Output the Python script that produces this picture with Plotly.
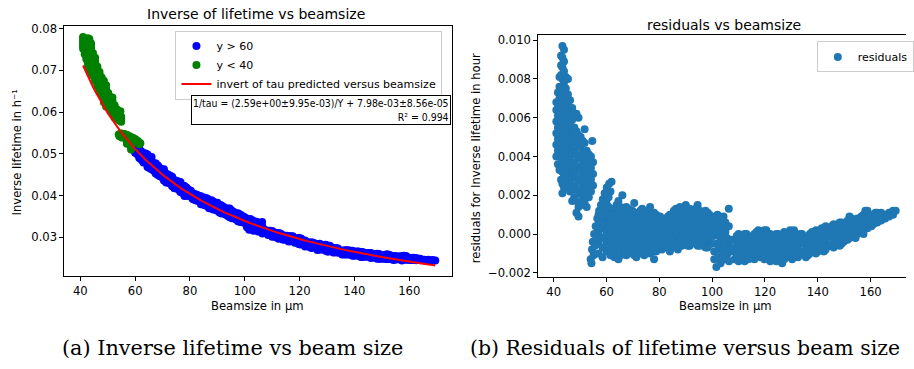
import plotly.graph_objects as go

# ---- fit parameters printed on the chart ----
A_FIT = 2.59       # 1/tau = A/Y + B
B_FIT = 7.98e-3

# ---- residual data (beamsize in µm, residual in 1/h) ----
# green group ("y < 40"): tall blob at small beamsize, columns of points
green_cols_x = [41.0, 41.6, 42.2, 42.8, 43.3, 43.9, 44.6, 45.4, 46.2, 47.0, 47.8,
                48.6, 49.4, 50.2, 51.0, 51.7, 52.5, 53.3, 54.1, 54.6, 54.9, 57.0, 58.5]
green_cols_r = [
    [0.0040, 0.0046, 0.0052, 0.0058, 0.0064, 0.0068],
    [0.0036, 0.0043, 0.0049, 0.0055, 0.0061, 0.0067, 0.0073],
    [0.0033, 0.0040, 0.0046, 0.0052, 0.0058, 0.0064, 0.0070, 0.0076, 0.0081],
    [0.0028, 0.0034, 0.0040, 0.0046, 0.0052, 0.0058, 0.0064, 0.0070, 0.0076, 0.0082, 0.0087, 0.0092],
    [0.0021, 0.0026, 0.0032, 0.0038, 0.0044, 0.0050, 0.0056, 0.0062, 0.0068, 0.0074, 0.0080, 0.0086, 0.0091, 0.0097],
    [0.0024, 0.0030, 0.0036, 0.0042, 0.0048, 0.0054, 0.0060, 0.0066, 0.0072, 0.0078, 0.0084, 0.0089, 0.0095],
    [0.0027, 0.0033, 0.0039, 0.0045, 0.0051, 0.0057, 0.0063, 0.0069, 0.0075, 0.0081],
    [0.0025, 0.0031, 0.0037, 0.0043, 0.0049, 0.0055, 0.0061, 0.0067, 0.0072, 0.0080],
    [0.0022, 0.0028, 0.0034, 0.0040, 0.0046, 0.0052, 0.0058, 0.0064, 0.0069],
    [0.0017, 0.0023, 0.0029, 0.0035, 0.0041, 0.0047, 0.0053, 0.0059, 0.0065],
    [0.0019, 0.0025, 0.0031, 0.0037, 0.0043, 0.0049, 0.0055, 0.0061],
    [0.0011, 0.0017, 0.0023, 0.0029, 0.0035, 0.0041, 0.0047, 0.0053, 0.0062],
    [0.0009, 0.0014, 0.0021, 0.0027, 0.0033, 0.0039, 0.0045, 0.0051, 0.0060],
    [0.0015, 0.0021, 0.0027, 0.0033, 0.0039, 0.0045, 0.0050],
    [0.0018, 0.0024, 0.0030, 0.0036, 0.0042, 0.0048],
    [0.0016, 0.0022, 0.0028, 0.0034, 0.0040, 0.0047, 0.0054],
    [0.0014, 0.0020, 0.0026, 0.0032, 0.0038, 0.0043],
    [0.0019, 0.0025, 0.0031, 0.0037, 0.0041],
    [0.0022, 0.0028, 0.0034, 0.0040],
    [0.0048],
    [0.0025, 0.0031, 0.0037],
    [-0.0010, -0.0005, 0.0000, 0.0005, 0.0010],
    [-0.0012, -0.0007, -0.0002, 0.0003, 0.0008, 0.0013],
]
# green group: diagonal strip where the residuals drop (x ~ 54-62)
strip_x = [54.0, 54.3, 54.5, 54.8, 55.1, 55.3, 55.6, 55.9, 56.2, 56.5, 56.8, 57.2,
           57.5, 57.9, 58.2, 58.6, 58.9, 59.3, 59.7, 60.1, 60.5, 61.0, 61.5, 61.9]
strip_r = [-0.0013, -0.0015, -0.0008, -0.0004, -0.0011, 0.0000, -0.0006, 0.0004,
           -0.0002, 0.0008, 0.0003, 0.0012, 0.0007, 0.0015, 0.0010, 0.0018, 0.0013,
           0.0021, 0.0016, 0.0024, 0.0019, 0.0026, 0.0022, 0.0027]

# blue group ("y > 60"), columns of points
blue_cols_x = [60.0, 61.5, 63.0, 64.5, 66.0, 67.5, 69.0, 70.5, 72.0, 73.5, 75.0, 76.5,
               78.0, 79.5, 81.0, 82.5, 84.0, 85.5, 87.0, 88.5, 90.0, 91.5, 93.0, 94.5,
               96.0, 97.5, 99.0, 100.5, 102.0, 103.5, 105.0, 106.3,
               100.8, 101.6, 102.4, 103.2, 104.0, 104.8, 105.6, 106.4, 107.2,
               108.5, 110.0, 111.5, 113.0, 114.5, 116.0, 117.5, 119.0, 120.5, 122.0,
               123.5, 125.0, 126.5, 128.0, 129.5, 131.0, 132.5, 134.0,
               135.5, 137.0, 138.5, 140.0, 141.5, 143.0, 144.5, 146.0, 147.5, 149.0,
               150.5, 152.0, 153.5, 155.0, 156.5, 158.0, 159.5, 161.0, 162.5, 164.0,
               165.5, 167.0, 168.5, 169.5]
blue_cols_r = [
    [-0.0009, -0.0004, 0.0001, 0.0006, 0.0011, 0.0016, 0.0021],
    [-0.0011, -0.0006, -0.0001, 0.0003, 0.0008, 0.0013],
    [-0.0012, -0.0009, -0.0004, 0.0001, 0.0006, 0.0011],
    [-0.0013, -0.0006, -0.0001, 0.0003, 0.0008, 0.0013, 0.0017],
    [-0.0009, -0.0004, 0.0001, 0.0006, 0.0011, 0.0020],
    [-0.0011, -0.0006, -0.0001, 0.0003, 0.0008, 0.0014],
    [-0.0009, -0.0004, 0.0001, 0.0006, 0.0011],
    [-0.0011, -0.0006, -0.0001, 0.0003, 0.0008, 0.0016],
    [-0.0009, -0.0004, 0.0001, 0.0006, 0.0011],
    [-0.0010, -0.0006, -0.0001, 0.0003, 0.0008, 0.0013],
    [-0.0008, -0.0004, 0.0001, 0.0006, 0.0010],
    [-0.0010, -0.0006, -0.0001, 0.0003, 0.0008, 0.0014],
    [-0.0013, -0.0008, -0.0004, 0.0001, 0.0006, 0.0011],
    [-0.0006, -0.0001, 0.0003, 0.0008],
    [-0.0008, -0.0004, 0.0001, 0.0006],
    [-0.0006, -0.0001, 0.0003, 0.0008],
    [-0.0009, -0.0004, 0.0001, 0.0006, 0.0010],
    [-0.0006, -0.0001, 0.0003, 0.0008, 0.0012],
    [-0.0008, -0.0004, 0.0001, 0.0006, 0.0011],
    [-0.0006, -0.0001, 0.0003, 0.0008, 0.0013],
    [-0.0004, 0.0001, 0.0006, 0.0011, 0.0015],
    [-0.0006, -0.0001, 0.0003, 0.0008, 0.0013],
    [-0.0004, 0.0001, 0.0006, 0.0011],
    [-0.0006, -0.0001, 0.0003, 0.0008, 0.0015],
    [-0.0004, 0.0001, 0.0006, 0.0011],
    [-0.0007, -0.0001, 0.0003, 0.0008, 0.0012],
    [-0.0004, 0.0001, 0.0006, 0.0010],
    [-0.0001, 0.0003, 0.0008],
    [0.0001, 0.0006, 0.0010],
    [0.0003, 0.0008],
    [0.0001, 0.0006],
    [0.0004, 0.0013],
    [-0.0009, -0.0013],
    [-0.0005, -0.0017],
    [-0.0008, -0.0012],
    [-0.0003, -0.0006, -0.0015],
    [-0.0001, -0.0010],
    [-0.0004, -0.0008, -0.0013],
    [-0.0002, -0.0011],
    [-0.0006, -0.0014],
    [-0.0003, -0.0009],
    [-0.0013, -0.0008, -0.0003],
    [-0.0014, -0.0010, -0.0005, 0.0000],
    [-0.0012, -0.0008, -0.0003],
    [-0.0010, -0.0005, 0.0000],
    [-0.0012, -0.0008, -0.0003],
    [-0.0013, -0.0010, -0.0005, 0.0000],
    [-0.0008, -0.0003, 0.0002],
    [-0.0010, -0.0005, 0.0000],
    [-0.0012, -0.0008, -0.0003, 0.0002],
    [-0.0014, -0.0010, -0.0005, 0.0000],
    [-0.0012, -0.0008, -0.0003],
    [-0.0010, -0.0005, 0.0000],
    [-0.0015, -0.0012, -0.0008, -0.0003],
    [-0.0010, -0.0005, 0.0000],
    [-0.0012, -0.0008, -0.0003, 0.0002],
    [-0.0010, -0.0005, 0.0000, 0.0002],
    [-0.0012, -0.0008, -0.0003],
    [-0.0010, -0.0005, 0.0000],
    [-0.0012, -0.0008, -0.0003],
    [-0.0010, -0.0005, 0.0000],
    [-0.0008, -0.0003, 0.0001],
    [-0.0009, -0.0005, 0.0000],
    [-0.0007, -0.0002, 0.0003],
    [-0.0008, -0.0003, 0.0001, 0.0004],
    [-0.0006, -0.0001, 0.0003],
    [-0.0007, -0.0002, 0.0002, 0.0005],
    [-0.0004, 0.0000, 0.0004],
    [-0.0005, -0.0001, 0.0003, 0.0006],
    [-0.0003, 0.0001, 0.0005],
    [-0.0002, 0.0002, 0.0006, 0.0009],
    [-0.0001, 0.0003, 0.0007],
    [0.0000, 0.0004, 0.0008],
    [0.0002, 0.0005, 0.0009],
    [0.0003, 0.0006, 0.0009, 0.0012],
    [0.0004, 0.0007, 0.0010],
    [0.0005, 0.0008, 0.0010],
    [0.0006, 0.0009, 0.0011],
    [0.0007, 0.0009, 0.0011],
    [0.0008, 0.0010],
    [0.0009, 0.0011],
    [0.0010, 0.0012],
    [0.0012],
]
# blue group: additional points lying between the columns above
blue_fill_x = [60.8, 62.3, 63.8, 65.3, 66.8, 68.3, 69.8, 71.3, 72.8, 74.3, 75.8, 77.3,
               78.8, 80.3, 81.8, 83.3, 84.8, 86.3, 87.8, 89.3, 90.8, 92.3, 93.8, 95.3,
               96.8, 98.3, 99.8, 101.2, 102.8, 104.3,
               109.3, 110.8, 112.3, 113.8, 115.3, 116.8, 118.3, 119.8, 121.3, 122.8,
               124.3, 125.8, 127.3, 128.8, 130.3, 131.8, 133.3,
               136.3, 137.8, 139.3, 140.8, 142.3, 143.8, 145.3, 146.8, 148.3, 149.8,
               151.3, 152.8, 154.3, 155.8, 157.3, 158.8, 160.3, 161.8, 163.3]
blue_fill_r = [
    [-0.0007, -0.0002, 0.0004, 0.0009, 0.0014, 0.0019],
    [-0.0010, -0.0003, 0.0005, 0.0010],
    [-0.0007, -0.0002, 0.0003, 0.0009, 0.0015],
    [-0.0011, -0.0003, 0.0004, 0.0008, 0.0014],
    [-0.0008, -0.0002, 0.0003, 0.0009],
    [-0.0010, -0.0006, 0.0000, 0.0004, 0.0010, 0.0013],
    [-0.0007, -0.0002, 0.0003, 0.0009, 0.0012],
    [-0.0012, -0.0004, 0.0004, 0.0009],
    [-0.0007, -0.0001, 0.0003, 0.0008, 0.0012],
    [-0.0011, -0.0003, 0.0004, 0.0009],
    [-0.0007, -0.0002, 0.0003, 0.0008, 0.0012],
    [-0.0009, -0.0003, 0.0004, 0.0009],
    [-0.0009, -0.0003, 0.0002, 0.0006, 0.0010],
    [-0.0005, 0.0000, 0.0005, 0.0009],
    [-0.0007, -0.0002, 0.0003, 0.0007],
    [-0.0004, 0.0001, 0.0005, 0.0009],
    [-0.0007, -0.0002, 0.0004, 0.0010],
    [-0.0005, 0.0000, 0.0005, 0.0009, 0.0013],
    [-0.0006, -0.0002, 0.0004, 0.0009, 0.0014],
    [-0.0004, 0.0002, 0.0006, 0.0010],
    [-0.0006, -0.0001, 0.0004, 0.0009, 0.0013],
    [-0.0003, 0.0002, 0.0007, 0.0012],
    [-0.0005, 0.0000, 0.0004, 0.0009, 0.0013],
    [-0.0006, 0.0000, 0.0005, 0.0009, 0.0012],
    [-0.0005, 0.0000, 0.0005, 0.0010],
    [-0.0007, -0.0002, 0.0004, 0.0008, 0.0011],
    [-0.0005, 0.0000, 0.0005, 0.0009],
    [0.0002, 0.0007],
    [-0.0001, 0.0004, 0.0009],
    [0.0000, 0.0005, 0.0009],
    [-0.0011, -0.0006, -0.0001],
    [-0.0012, -0.0007, -0.0002],
    [-0.0014, -0.0009, -0.0005, 0.0000],
    [-0.0013, -0.0007, -0.0002],
    [-0.0010, -0.0006, -0.0001],
    [-0.0011, -0.0007, -0.0002, 0.0001],
    [-0.0012, -0.0006, -0.0001],
    [-0.0013, -0.0007, -0.0003, 0.0002],
    [-0.0010, -0.0006, -0.0001],
    [-0.0012, -0.0007, -0.0002],
    [-0.0014, -0.0010, -0.0005, 0.0000],
    [-0.0011, -0.0006, -0.0001],
    [-0.0013, -0.0008, -0.0004, 0.0001],
    [-0.0011, -0.0006, -0.0002],
    [-0.0013, -0.0008, -0.0003, 0.0001],
    [-0.0011, -0.0006, -0.0001],
    [-0.0009, -0.0004, 0.0000],
    [-0.0011, -0.0006, -0.0001],
    [-0.0009, -0.0004, 0.0001],
    [-0.0010, -0.0006, -0.0002, 0.0002],
    [-0.0007, -0.0003, 0.0002],
    [-0.0009, -0.0005, -0.0001, 0.0003],
    [-0.0006, -0.0001, 0.0002],
    [-0.0005, -0.0001, 0.0004],
    [-0.0005, 0.0000, 0.0003],
    [-0.0006, -0.0002, 0.0002, 0.0006],
    [-0.0004, 0.0000, 0.0004],
    [-0.0003, 0.0001, 0.0004, 0.0007],
    [-0.0001, 0.0004, 0.0008],
    [-0.0002, 0.0002, 0.0006],
    [0.0001, 0.0003, 0.0007],
    [0.0000, 0.0004, 0.0007, 0.0010],
    [0.0003, 0.0008, 0.0012],
    [0.0004, 0.0006, 0.0009],
    [0.0006, 0.0008, 0.0011],
    [0.0007, 0.0010],
]

x_ticks = [40, 60, 80, 100, 120, 140, 160]
y_ticks_left = [0.03, 0.04, 0.05, 0.06, 0.07, 0.08]
y_ticks_right = [-0.002, 0.0, 0.002, 0.004, 0.006, 0.008, 0.010]

# ---- assemble point lists from the tables ----
def flatten(cols_x, cols_r):
    xs, rs = [], []
    for xv, rv in zip(cols_x, cols_r):
        for r in rv:
            xs.append(xv)
            rs.append(r)
    return xs, rs

gx, gr = flatten(green_cols_x, green_cols_r)
gx += strip_x
gr += strip_r
bx, br = flatten(blue_cols_x, blue_cols_r)
fx, fr = flatten(blue_fill_x, blue_fill_r)
bx += fx
br += fr

def inv_tau(xv, r):
    return A_FIT / xv + B_FIT + r

gy = [inv_tau(a, b) for a, b in zip(gx, gr)]
by = [inv_tau(a, b) for a, b in zip(bx, br)]
line_x = sorted(set(gx + bx))
line_y = [A_FIT / v + B_FIT for v in line_x]

FONT = "DejaVu Sans"
FS = 11.6
W, H = 914, 369

fig = go.Figure()
fig.add_trace(go.Scatter(x=bx, y=by, mode="markers", name="y > 60",
                         marker=dict(color="blue", size=8, line=dict(width=0)),
                         xaxis="x", yaxis="y", legend="legend"))
fig.add_trace(go.Scatter(x=gx, y=gy, mode="markers", name="y < 40",
                         marker=dict(color="green", size=8, line=dict(width=0)),
                         xaxis="x", yaxis="y", legend="legend"))
fig.add_trace(go.Scatter(x=line_x, y=line_y, mode="lines",
                         name="invert of tau predicted versus beamsize",
                         line=dict(color="red", width=2),
                         xaxis="x", yaxis="y", legend="legend"))
fig.add_trace(go.Scatter(x=gx + bx, y=gr + br, mode="markers", name="residuals",
                         marker=dict(color="#1f77b4", size=8, line=dict(width=0)),
                         xaxis="x2", yaxis="y2", legend="legend2"))

axis_common = dict(showgrid=False, zeroline=False, showline=True, linecolor="black",
                   linewidth=1, ticks="outside", ticklen=4, tickcolor="black",
                   tickfont=dict(family=FONT, size=FS, color="black"))

fig.update_layout(
    width=W, height=H, margin=dict(l=0, r=0, t=0, b=0),
    paper_bgcolor="white", plot_bgcolor="white",
    xaxis=dict(domain=[65 / W, 456 / W], range=[34.2, 175.6], tickvals=x_ticks,
               anchor="y", mirror=True, **axis_common),
    yaxis=dict(domain=[1 - 277 / H, 1 - 22 / H], range=[0.0206, 0.0807],
               tickvals=y_ticks_left, tickformat=".2f", anchor="x", mirror=True,
               **axis_common),
    xaxis2=dict(domain=[543 / W, 1.0], range=[34.15, 173.4], tickvals=x_ticks,
                anchor="y2", mirror=True, **axis_common),
    yaxis2=dict(domain=[1 - 278 / H, 1 - 32 / H], range=[-0.00224, 0.01024],
                tickvals=y_ticks_right, tickformat=".3f", anchor="x2", mirror=False,
                **axis_common),
    showlegend=True,
    legend=dict(x=177 / W, y=1 - 27 / H, xanchor="left", yanchor="top",
                bgcolor="white", bordercolor="#cccccc", borderwidth=1,
                font=dict(family=FONT, size=11, color="black"), tracegroupgap=0),
    legend2=dict(x=824 / W, y=1 - 38 / H, xanchor="left", yanchor="top",
                 bgcolor="white", bordercolor="#cccccc", borderwidth=1,
                 font=dict(family=FONT, size=11, color="black")),
)

def ann(text, x, y, size=FS, angle=0, family=FONT, xanchor="center", **kw):
    fig.add_annotation(text=text, x=x, y=y, xref="paper", yref="paper",
                       showarrow=False, textangle=angle, xanchor=xanchor,
                       yanchor="middle", font=dict(family=family, size=size, color="black"),
                       **kw)

ann("Inverse of lifetime vs beamsize", 258 / W, 1 - 10 / H, size=14)
ann("residuals vs beamsize", 730 / W, 1 - 21 / H, size=14)
ann("Beamsize in µm", 260 / W, 1 - 307 / H)
ann("Beamsize in µm", 732 / W, 1 - 307 / H)
ann("Inverse lifetime in h⁻¹", 17 / W, 1 - 150 / H, angle=-90)
ann("residuals for Inverse lifetime in hour", 481 / W, 1 - 157 / H, angle=-90)

fig.add_annotation(text="1/tau = (2.59e+00±9.95e-03)/Y + 7.98e-03±8.56e-05<br>R² = 0.994",
                   x=455 / W, y=1 - 92 / H, xref="paper", yref="paper",
                   xanchor="right", yanchor="top", align="right", showarrow=False,
                   bgcolor="white", bordercolor="black", borderwidth=1, borderpad=1,
                   font=dict(family="Liberation Sans Narrow, DejaVu Sans Condensed, Liberation Sans", size=10.4, color="black"))

ann("(a) Inverse lifetime vs beam size", 61 / W, 1 - 350 / H, size=20.8,
    family="DejaVu Serif", xanchor="left")
ann("(b) Residuals of lifetime versus beam size", 472 / W, 1 - 350 / H, size=20.4,
    family="DejaVu Serif", xanchor="left")

fig.write_html("out.html")
